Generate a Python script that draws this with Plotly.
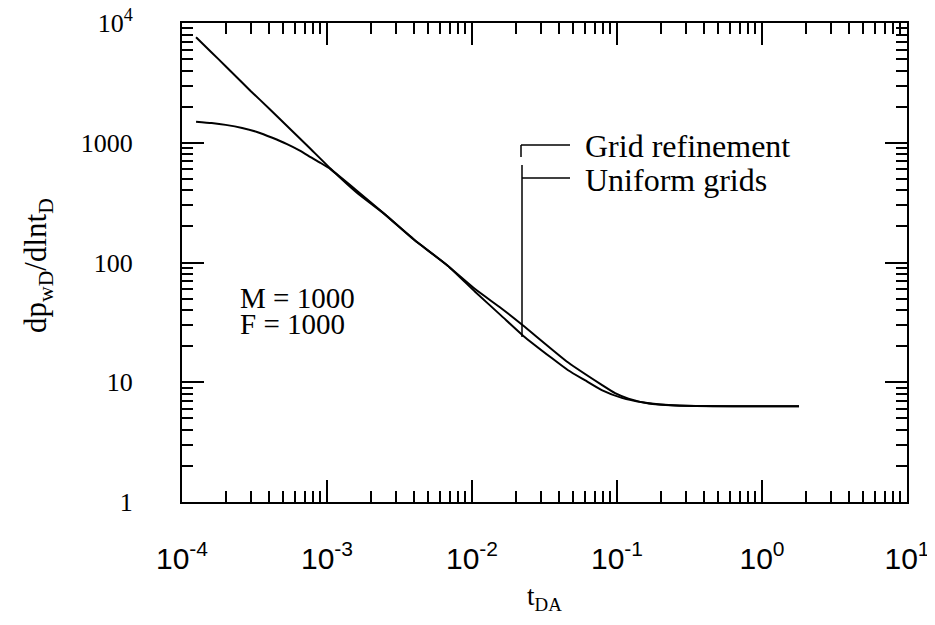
import plotly.graph_objects as go

# Uniform grids (steep at early time)
t_uniform = [1.25e-4, 1.6e-4, 2.0e-4, 2.96e-4, 4.0e-4, 5.5e-4, 7.5e-4, 1.06e-3, 1.6e-3, 2.47e-3,
             4.0e-3, 6.8e-3, 0.0105, 0.0159, 0.0225, 0.0353, 0.046, 0.060, 0.0785, 0.108,
             0.149, 0.227, 0.35, 0.6, 1.0, 1.8]
p_uniform = [7600, 5680, 4360, 2720, 1926, 1323, 917, 607, 385, 256,
             154, 94, 57, 36, 24.5, 16, 12.6, 10.4, 8.6, 7.4,
             6.8, 6.45, 6.33, 6.3, 6.3, 6.3]

# Grid refinement (flatter at early time)
t_refined = [1.25e-4, 1.6e-4, 2.0e-4, 2.6e-4, 3.29e-4, 4.2e-4, 5.3e-4, 6.5e-4, 7.7e-4, 9.0e-4,
             1.06e-3, 1.6e-3, 2.47e-3, 4.0e-3, 6.8e-3, 0.0105, 0.0159, 0.0225, 0.0461, 0.0785,
             0.097, 0.12, 0.165, 0.25, 0.4, 1.0, 1.8]
p_refined = [1500, 1460, 1410, 1330, 1230, 1100, 975, 860, 760, 680,
             600, 400, 256, 155, 94, 60, 41.5, 29.8, 14.6, 9.5,
             8.1, 7.3, 6.65, 6.4, 6.32, 6.3, 6.3]

x_tickvals = [1e-4, 1e-3, 1e-2, 1e-1, 1, 10]
x_ticktext = ["10<sup>-4</sup>", "10<sup>-3</sup>", "10<sup>-2</sup>",
              "10<sup>-1</sup>", "10<sup>0</sup>", "10<sup>1</sup>"]
y_tickvals = [1, 10, 100, 1000, 10000]
y_ticktext = ["1", "10", "100", "1000", "10<sup>4</sup>"]
minor_digits = [2, 3, 4, 5, 6, 7, 8, 9]
x_minor = [d * m for m in x_tickvals[:-1] for d in minor_digits]
y_minor = [d * m for m in y_tickvals[:-1] for d in minor_digits]

SERIF = "Liberation Serif, Times New Roman, serif"
SANS = "Liberation Sans, Arial, sans-serif"

fig = go.Figure()
fig.add_trace(go.Scatter(x=t_refined, y=p_refined, mode="lines", name="Grid refinement",
                         line=dict(color="black", width=2, shape="spline", smoothing=0.5)))
fig.add_trace(go.Scatter(x=t_uniform, y=p_uniform, mode="lines", name="Uniform grids",
                         line=dict(color="black", width=2, shape="spline", smoothing=0.5)))

# page offset of the figure div (default body margin)
OFF = 8
# plot area in page pixels
L, R, T, B = 182, 907, 23, 502
W, H = R - L, B - T
FIG_W, FIG_H = 935 - OFF, 625 - OFF


def px(x):
    return (x - L) / W


def py(y):
    return (B - y) / H


line = dict(color="black", width=1.5)
shapes = [
    dict(type="line", xref="paper", yref="paper", x0=px(521), x1=px(570), y0=py(145), y1=py(145), line=line),
    dict(type="line", xref="paper", yref="paper", x0=px(521), x1=px(521), y0=py(145), y1=py(157), line=line),
    dict(type="line", xref="paper", yref="paper", x0=px(522), x1=px(570), y0=py(178), y1=py(178), line=line),
    dict(type="line", xref="paper", yref="paper", x0=px(522), x1=px(522), y0=py(165), y1=py(337), line=line),
]

annotations = [
    dict(text="Grid refinement", xref="paper", yref="paper", x=px(583), y=py(146),
         xanchor="left", yanchor="middle", showarrow=False,
         font=dict(family=SERIF, size=32, color="black")),
    dict(text="Uniform grids", xref="paper", yref="paper", x=px(583), y=py(180),
         xanchor="left", yanchor="middle", showarrow=False,
         font=dict(family=SERIF, size=32, color="black")),
    dict(text="M = 1000", xref="paper", yref="paper", x=px(238), y=py(298),
         xanchor="left", yanchor="middle", showarrow=False,
         font=dict(family=SERIF, size=29, color="black")),
    dict(text="F = 1000", xref="paper", yref="paper", x=px(238), y=py(324),
         xanchor="left", yanchor="middle", showarrow=False,
         font=dict(family=SERIF, size=29, color="black")),
    # y-axis title
    dict(text="dp<sub>wD</sub>/dlnt<sub>D</sub>", xref="paper", yref="paper",
         x=px(38), y=py(266), xanchor="center", yanchor="middle", textangle=-90,
         showarrow=False, font=dict(family=SERIF, size=31, color="black")),
]

axis_common = dict(
    showline=True, linecolor="black", linewidth=2, mirror="allticks",
    ticks="inside", ticklen=22, tickwidth=1.5, tickcolor="black",
    showgrid=False, zeroline=False, automargin=False,
    ticklabeloverflow="allow",
)

fig.update_layout(
    width=FIG_W, height=FIG_H,
    margin=dict(l=L - OFF, r=FIG_W - (R - OFF), t=T - OFF, b=FIG_H - (B - OFF), autoexpand=False),
    paper_bgcolor="white", plot_bgcolor="white",
    showlegend=False,
    shapes=shapes, annotations=annotations,
    xaxis=dict(type="log", range=[-4, 1], tickmode="array",
               tickvals=x_tickvals, ticktext=x_ticktext,
               tickfont=dict(family=SANS, size=30, color="black"),
               ticklabelstandoff=29,
               minor=dict(tickmode="array", tickvals=x_minor, ticks="inside", ticklen=11,
                          tickwidth=1.5, tickcolor="black", showgrid=False),
               title=dict(text="t<sub>DA</sub>", font=dict(family=SERIF, size=27, color="black"),
                          standoff=12),
               **axis_common),
    yaxis=dict(type="log", range=[0, 4], tickmode="array",
               tickvals=y_tickvals, ticktext=y_ticktext,
               tickfont=dict(family=SERIF, size=26, color="black"),
               ticklabelstandoff=42,
               minor=dict(tickmode="array", tickvals=y_minor, ticks="inside", ticklen=11,
                          tickwidth=1.5, tickcolor="black", showgrid=False),
               **axis_common),
)

fig.write_html("out.html")
